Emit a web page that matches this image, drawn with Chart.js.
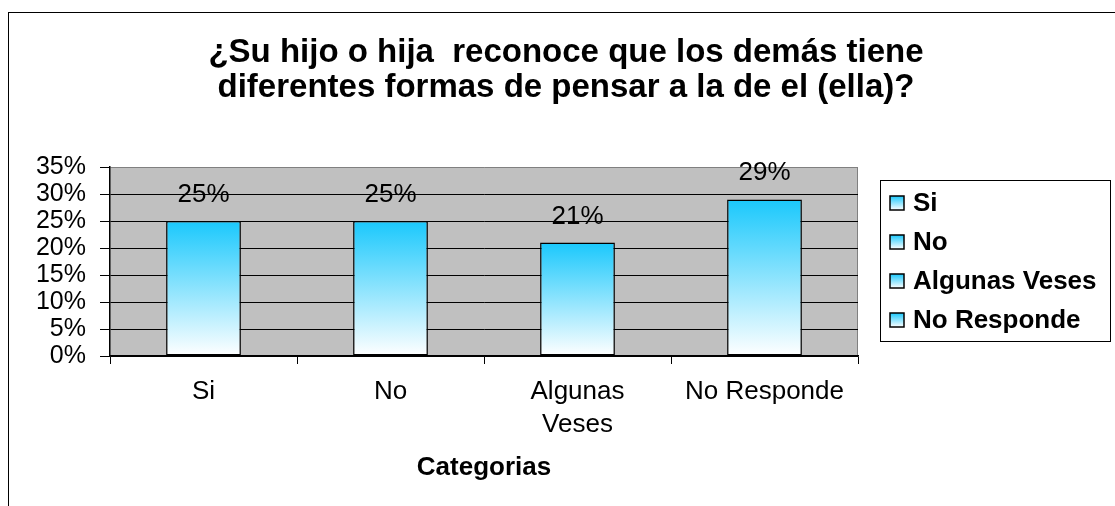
<!DOCTYPE html>
<html>
<head>
<meta charset="utf-8">
<script src="https://cdn.jsdelivr.net/npm/chart.js@4"></script>
<style>
  body { margin: 0; background: #fff; }
  canvas { display: block; }
</style>
</head>
<body>
<canvas id="chart" width="1115" height="506"></canvas>
<script>
const titleLines = ['¿Su hijo o hija  reconoce que los demás tiene', 'diferentes formas de pensar a la de el (ella)?'];
const categories = ['Si', 'No', 'Algunas Veses', 'No Responde'];
const tickLabels = [['Si'], ['No'], ['Algunas', 'Veses'], ['No Responde']];
const values = [25, 25, 21, 29];
const yMin = 0;
const yMax = 35;
const yStep = 5;
const xTitle = 'Categorias';

const FONT = "'Liberation Sans', Arial, sans-serif";
const barTop = '#1AC8FC';
const barBottom = '#FFFFFF';

function barFill(c) {
    const chart = c.chart;
    if (!chart.chartArea || c.dataIndex === undefined) return barTop;
    const y = chart.scales.y;
    const top = y.getPixelForValue(values[c.dataIndex]);
    const bottom = y.getPixelForValue(0);
    const g = chart.ctx.createLinearGradient(0, top, 0, bottom);
    g.addColorStop(0, barTop);
    g.addColorStop(1, barBottom);
    return g;
}

// grey plot area + outer frame
const background = {
    id: 'background',
    beforeDraw(chart) {
        const { ctx, chartArea: a } = chart;
        ctx.save();
        ctx.fillStyle = '#C0C0C0';
        ctx.fillRect(a.left, a.top, a.right - a.left, a.bottom - a.top);
        ctx.strokeStyle = '#808080';
        ctx.lineWidth = 1;
        ctx.beginPath();
        ctx.moveTo(a.right - 0.5, a.top);
        ctx.lineTo(a.right - 0.5, a.bottom);
        ctx.stroke();
        ctx.strokeStyle = '#000';
        ctx.strokeRect(8.5, 12.5, 1300, 700);
        ctx.restore();
    }
};

// title, value labels and boxed legend
const decorations = {
    id: 'decorations',
    afterDraw(chart) {
        const { ctx } = chart;
        const meta = chart.getDatasetMeta(0);
        ctx.save();
        ctx.fillStyle = '#000';

        ctx.font = 'bold 33px ' + FONT;
        ctx.textAlign = 'center';
        ctx.textBaseline = 'alphabetic';
        titleLines.forEach((line, i) => ctx.fillText(line, 566, 62 + i * 35));

        ctx.font = '26px ' + FONT;
        meta.data.forEach((bar, i) => {
            ctx.fillText(values[i] + '%', bar.x, bar.y - 19);
        });

        ctx.strokeStyle = '#000';
        ctx.lineWidth = 1;
        ctx.strokeRect(880.5, 180.5, 230, 161);
        ctx.font = 'bold 26px ' + FONT;
        ctx.textAlign = 'left';
        ctx.textBaseline = 'middle';
        categories.forEach((cat, i) => {
            const cy = 203 + i * 39;
            const g = ctx.createLinearGradient(0, cy - 7, 0, cy + 7);
            g.addColorStop(0, barTop);
            g.addColorStop(1, barBottom);
            ctx.fillStyle = g;
            ctx.fillRect(890, cy - 7, 14, 14);
            ctx.lineWidth = 1.5;
            ctx.strokeRect(890, cy - 7, 14, 14);
            ctx.fillStyle = '#000';
            ctx.fillText(cat, 913, cy + 1);
        });
        ctx.restore();
    }
};

new Chart(document.getElementById('chart'), {
    type: 'bar',
    data: {
        labels: categories,
        datasets: [{
            data: values,
            backgroundColor: barFill,
            borderColor: '#000',
            borderWidth: 1.5,
            borderSkipped: false,
            categoryPercentage: 1,
            barPercentage: 0.4
        }]
    },
    options: {
        responsive: false,
        animation: false,
        layout: { padding: { top: 167, right: 257, bottom: 0, left: 0 } },
        plugins: {
            legend: { display: false },
            title: { display: false },
            tooltip: { enabled: false }
        },
        scales: {
            x: {
                offset: true,
                afterFit: s => { s.height = 150; },
                border: { color: '#000', width: 1.5 },
                grid: { offset: true, drawOnChartArea: false, drawTicks: true, tickLength: 8, color: '#000' },
                ticks: {
                    color: '#000',
                    padding: 12,
                    font: { family: FONT, size: 26, lineHeight: 1.25 },
                    maxRotation: 0,
                    autoSkip: false,
                    callback: (v, i) => tickLabels[i]
                },
                title: {
                    display: true,
                    text: xTitle,
                    color: '#000',
                    font: { family: FONT, size: 26, weight: 'bold', lineHeight: 1.2 },
                    padding: { top: 0, bottom: 23 }
                }
            },
            y: {
                min: yMin,
                max: yMax,
                afterFit: s => { s.width = 110; },
                border: { color: '#000', width: 1.5 },
                grid: {
                    color: c => (c.tick && c.tick.value === yMax) ? '#808080' : '#000',
                    lineWidth: 1,
                    tickLength: 10,
                    tickColor: '#000'
                },
                ticks: {
                    stepSize: yStep,
                    autoSkip: false,
                    color: '#000',
                    padding: 14,
                    font: { family: FONT, size: 25 },
                    callback: v => v + '%'
                }
            }
        }
    },
    plugins: [background, decorations]
});
</script>
</body>
</html>
